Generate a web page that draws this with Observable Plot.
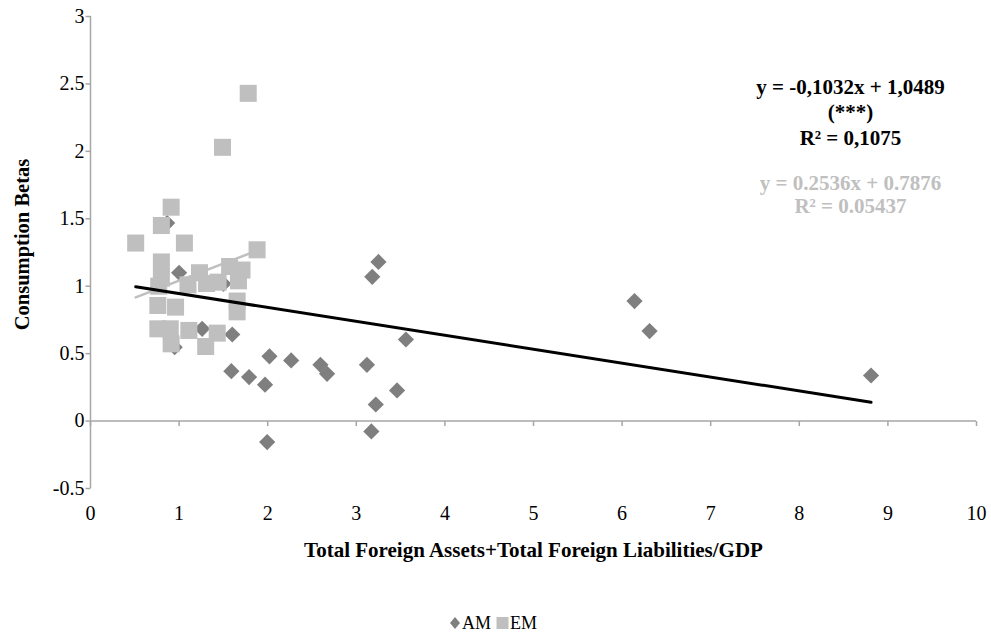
<!DOCTYPE html>
<html>
<head>
<meta charset="utf-8">
<script src="https://cdn.jsdelivr.net/npm/d3@7"></script>
<script src="https://cdn.jsdelivr.net/npm/@observablehq/plot@0.6"></script>
<style>
  html, body { margin: 0; padding: 0; background: #fff; }
  #wrap { position: relative; width: 991px; height: 638px; overflow: hidden; font-family: "Liberation Serif", "Times New Roman", serif; }
  #chart svg, #chart svg text { font-family: "Liberation Serif", "Times New Roman", serif !important; }
  #legend { position: absolute; left: 449px; top: 612px; display: flex; align-items: center; font-size: 18px; line-height: 22px; color: #000; }
  #legend span.item { display: inline-flex; align-items: center; margin-right: 5px; }
  #legend svg { margin-right: 1px; }
</style>
</head>
<body>
<div id="wrap">
  <div id="chart"></div>
  <div id="legend"></div>
</div>
<script>
// ---- data ----
const amX = [0.865, 1.00, 1.50, 1.26, 1.60, 0.95, 1.59, 1.79, 1.97, 2.02, 2.265, 2.595, 2.67, 3.12, 3.46, 3.22, 3.17, 1.994, 3.25, 3.18, 3.56, 6.14, 6.31, 8.81];
const amY = [1.468, 1.10, 1.018, 0.684, 0.642, 0.548, 0.37, 0.326, 0.27, 0.48, 0.45, 0.417, 0.35, 0.417, 0.227, 0.123, -0.077, -0.156, 1.18, 1.07, 0.605, 0.89, 0.667, 0.338];

const emX = [1.78, 1.49, 0.91, 0.80, 0.51, 1.06, 1.88, 0.80, 0.80, 0.77, 1.23, 1.57, 1.71, 1.10, 1.31, 1.44, 1.67, 0.76, 0.96, 1.655, 1.655, 0.76, 0.90, 1.11, 1.43, 0.91, 1.30];
const emY = [2.43, 2.03, 1.586, 1.45, 1.32, 1.32, 1.27, 1.18, 1.06, 1.00, 1.10, 1.146, 1.12, 1.01, 1.02, 1.03, 1.04, 0.857, 0.845, 0.89, 0.81, 0.684, 0.684, 0.672, 0.652, 0.573, 0.553];

const trendAll = {slope: -0.1032, intercept: 1.0489};
const trendEM = {slope: 0.2536, intercept: 0.7876};

const xTicks = [0, 1, 2, 3, 4, 5, 6, 7, 8, 9, 10];
const yTicks = [-0.5, 0, 0.5, 1, 1.5, 2, 2.5, 3];

const labelBlack = ["y = -0,1032x + 1,0489", "(***)", "R² = 0,1075"];
const labelGrey = ["y = 0.2536x + 0.7876", "R² = 0.05437"];
const xLabel = "Total Foreign Assets+Total Foreign Liabilities/GDP";
const yLabel = "Consumption Betas";
const seriesNames = ["AM", "EM"];

// ---- build tables ----
const am = amX.map((x, i) => ({x, y: amY[i]}));
const em = emX.map((x, i) => ({x, y: emY[i]}));
const allX = amX.concat(emX);
const [xa0, xa1] = d3.extent(allX);
const [xe0, xe1] = d3.extent(emX);
const lineAll = [xa0, xa1].map(x => ({x, y: trendAll.slope * x + trendAll.intercept}));
const lineEM = [xe0, xe1].map(x => ({x, y: trendEM.slope * x + trendEM.intercept}));

const AXIS = "#a6a6a6";
const DARK = "#7f7f7f";
const LIGHT = "#bfbfbf";
const FONT = "'Liberation Serif', 'Times New Roman', serif";

const tickDown = {draw(ctx) { ctx.moveTo(0, 0); ctx.lineTo(0, 5); }};
const tickLeft = {draw(ctx) { ctx.moveTo(0, 0); ctx.lineTo(-5, 0); }};

const chart = Plot.plot({
  width: 991,
  height: 570,
  marginLeft: 90,
  marginRight: 15,
  marginTop: 16,
  marginBottom: 82,
  style: {fontFamily: FONT, background: "#fff", color: "#000"},
  x: {domain: [0, 10]},
  y: {domain: [-0.5, 3]},
  marks: [
    // axis lines
    Plot.ruleX([0], {y1: -0.5, y2: 3, stroke: AXIS, strokeWidth: 1.5}),
    Plot.ruleY([0], {x1: 0, x2: 10, stroke: AXIS, strokeWidth: 1.5}),
    Plot.dot(xTicks, {x: d => d, y: 0, symbol: tickDown, r: 5, stroke: AXIS, strokeWidth: 1.5, fill: "none"}),
    Plot.dot(yTicks, {x: 0, y: d => d, symbol: tickLeft, r: 5, stroke: AXIS, strokeWidth: 1.5, fill: "none"}),
    Plot.axisX({ticks: xTicks, tickSize: 0, tickPadding: 17, fontSize: 20, tickFormat: d => String(d), label: null}),
    Plot.axisY({ticks: yTicks, tickSize: 0, tickPadding: 6, fontSize: 20, tickFormat: d => String(d), label: null}),
    // axis titles
    Plot.text([xLabel], {frameAnchor: "bottom", dy: 62, lineAnchor: "middle", fontSize: 21, fontWeight: "bold", fill: "#000"}),
    Plot.text([yLabel], {frameAnchor: "left", dx: -68, dy: -8, rotate: -90, textAnchor: "middle", lineAnchor: "middle", fontSize: 20.5, fontWeight: "bold", fill: "#000"}),
    // data
    Plot.dot(am, {x: "x", y: "y", symbol: "diamond2", r: 7.3, fill: DARK, stroke: null}),
    Plot.dot(em, {x: "x", y: "y", symbol: "square", r: 9.6, fill: LIGHT, stroke: null}),
    // trend lines
    Plot.line(lineEM, {x: "x", y: "y", stroke: LIGHT, strokeWidth: 2.5}),
    Plot.line(lineAll, {x: "x", y: "y", stroke: "#000", strokeWidth: 3}),
    // equations
    Plot.text([labelBlack.join("\n")], {frameAnchor: "top-right", dx: -126, dy: 94.5, lineAnchor: "middle", lineHeight: 1.214, fontSize: 21, fontWeight: "bold", fill: "#000", textAnchor: "middle"}),
    Plot.text([labelGrey.join("\n")], {frameAnchor: "top-right", dx: -126, dy: 177.5, lineAnchor: "middle", lineHeight: 1.095, fontSize: 21, fontWeight: "bold", fill: LIGHT, textAnchor: "middle"})
  ]
});
document.getElementById("chart").appendChild(chart);

// legend
const legend = document.getElementById("legend");
const shapes = {
  AM: `<svg width="12" height="14"><path d="M6,1 L11,7 L6,13 L1,7 Z" fill="${DARK}"/></svg>`,
  EM: `<svg width="13" height="14"><rect x="0.5" y="1" width="12" height="12" fill="${LIGHT}"/></svg>`
};
seriesNames.forEach(name => {
  const s = document.createElement("span");
  s.className = "item";
  s.innerHTML = shapes[name] + `<span>${name}</span>`;
  legend.appendChild(s);
});
</script>
</body>
</html>
